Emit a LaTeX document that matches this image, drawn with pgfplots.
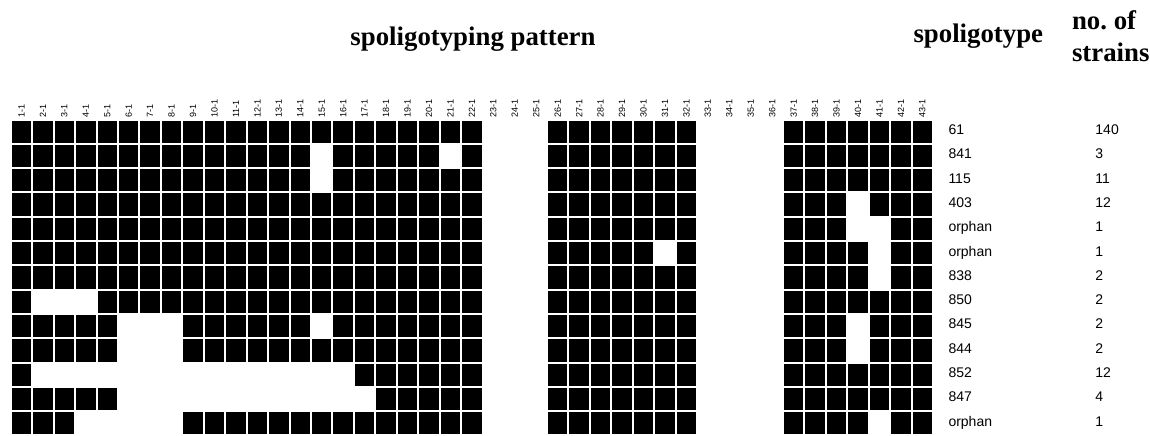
\documentclass[border=0pt]{standalone}
\usepackage{pgfplots}
\pgfplotsset{compat=1.18}
\usepackage{pgfplotstable}
\usepackage{fontspec}
\setmainfont{Liberation Serif}
\newfontfamily\lsans{Liberation Sans}
\pgfdeclareplotmark{cell}{%
  \pgfpathrectangle{\pgfpoint{-5.3625pt}{-6.075pt}}{\pgfpoint{10.725pt}{12.15pt}}%
  \pgfusepathqfillstroke}
% s = spacer number, r1..r13 = strain rows (1 = hybridisation present)
\pgfplotstableread{
s  r1 r2 r3 r4 r5 r6 r7 r8 r9 r10 r11 r12 r13
1  1 1 1 1 1 1 1 1 1 1 1 1 1
2  1 1 1 1 1 1 1 0 1 1 0 1 1
3  1 1 1 1 1 1 1 0 1 1 0 1 1
4  1 1 1 1 1 1 1 0 1 1 0 1 0
5  1 1 1 1 1 1 1 1 1 1 0 1 0
6  1 1 1 1 1 1 1 1 0 0 0 0 0
7  1 1 1 1 1 1 1 1 0 0 0 0 0
8  1 1 1 1 1 1 1 1 0 0 0 0 0
9  1 1 1 1 1 1 1 1 1 1 0 0 1
10 1 1 1 1 1 1 1 1 1 1 0 0 1
11 1 1 1 1 1 1 1 1 1 1 0 0 1
12 1 1 1 1 1 1 1 1 1 1 0 0 1
13 1 1 1 1 1 1 1 1 1 1 0 0 1
14 1 1 1 1 1 1 1 1 1 1 0 0 1
15 1 0 0 1 1 1 1 1 0 1 0 0 1
16 1 1 1 1 1 1 1 1 1 1 0 0 1
17 1 1 1 1 1 1 1 1 1 1 1 0 1
18 1 1 1 1 1 1 1 1 1 1 1 1 1
19 1 1 1 1 1 1 1 1 1 1 1 1 1
20 1 1 1 1 1 1 1 1 1 1 1 1 1
21 1 0 1 1 1 1 1 1 1 1 1 1 1
22 1 1 1 1 1 1 1 1 1 1 1 1 1
23 0 0 0 0 0 0 0 0 0 0 0 0 0
24 0 0 0 0 0 0 0 0 0 0 0 0 0
25 0 0 0 0 0 0 0 0 0 0 0 0 0
26 1 1 1 1 1 1 1 1 1 1 1 1 1
27 1 1 1 1 1 1 1 1 1 1 1 1 1
28 1 1 1 1 1 1 1 1 1 1 1 1 1
29 1 1 1 1 1 1 1 1 1 1 1 1 1
30 1 1 1 1 1 1 1 1 1 1 1 1 1
31 1 1 1 1 1 0 1 1 1 1 1 1 1
32 1 1 1 1 1 1 1 1 1 1 1 1 1
33 0 0 0 0 0 0 0 0 0 0 0 0 0
34 0 0 0 0 0 0 0 0 0 0 0 0 0
35 0 0 0 0 0 0 0 0 0 0 0 0 0
36 0 0 0 0 0 0 0 0 0 0 0 0 0
37 1 1 1 1 1 1 1 1 1 1 1 1 1
38 1 1 1 1 1 1 1 1 1 1 1 1 1
39 1 1 1 1 1 1 1 1 1 1 1 1 1
40 1 1 1 0 0 1 1 1 0 0 1 1 1
41 1 1 1 1 0 0 0 1 1 1 1 1 0
42 1 1 1 1 1 1 1 1 1 1 1 1 1
43 1 1 1 1 1 1 1 1 1 1 1 1 1
}\spol
\begin{document}
\begin{tikzpicture}
\begin{axis}[
  x=10.725pt, y=12.15pt, y dir=reverse,
  xmin=0, xmax=53.613, ymin=-4.418, ymax=13.443,
  axis line style={draw=none}, xtick=\empty, ytick=\empty,
  clip=false,
  colormap={bw}{color=(white) color=(black)},
  point meta min=0, point meta max=1,
]
\pgfplotsinvokeforeach{1,...,13}{
  \addplot[scatter, only marks, mark=cell, point meta=explicit,
    scatter/use mapped color={draw=white, fill=mapped color},
    mark options={line width=1pt}]
    table[x=s, y expr=#1, meta=r#1] {\spol};
}
% column (spacer) labels
\pgfplotsinvokeforeach{1,...,43}{
  \node[rotate=90, anchor=west, inner sep=0pt, xshift=-2pt,
    font=\lsans\fontsize{4.5}{5}\selectfont] at (axis cs:#1,0.274) {#1-1};
}
% headers
\node[font=\fontsize{13.4}{16}\selectfont\bfseries, anchor=base, inner sep=0pt]
  at (axis cs:22.05,-2.566) {spoligotyping pattern};
\node[font=\fontsize{13.4}{16}\selectfont\bfseries, anchor=base west, inner sep=0pt]
  at (axis cs:42.57,-2.669) {spoligotype};
\node[font=\fontsize{13.4}{16}\selectfont\bfseries, anchor=base west, inner sep=0pt]
  at (axis cs:49.96,-3.212) {no.\ of};
\node[font=\fontsize{13.4}{16}\selectfont\bfseries, anchor=base west, inner sep=0pt]
  at (axis cs:49.96,-1.879) {strains};
% row labels
\tikzset{rl/.style={anchor=base west, inner sep=0pt, font=\lsans\fontsize{7}{8}\selectfont}}
\node[rl] at (axis cs:44.2,1.12) {61};      \node[rl] at (axis cs:51.05,1.12) {140};
\node[rl] at (axis cs:44.2,2.12) {841};     \node[rl] at (axis cs:51.05,2.12) {3};
\node[rl] at (axis cs:44.2,3.12) {115};     \node[rl] at (axis cs:51.05,3.12) {11};
\node[rl] at (axis cs:44.2,4.12) {403};     \node[rl] at (axis cs:51.05,4.12) {12};
\node[rl] at (axis cs:44.2,5.12) {orphan};  \node[rl] at (axis cs:51.05,5.12) {1};
\node[rl] at (axis cs:44.2,6.12) {orphan};  \node[rl] at (axis cs:51.05,6.12) {1};
\node[rl] at (axis cs:44.2,7.12) {838};     \node[rl] at (axis cs:51.05,7.12) {2};
\node[rl] at (axis cs:44.2,8.12) {850};     \node[rl] at (axis cs:51.05,8.12) {2};
\node[rl] at (axis cs:44.2,9.12) {845};     \node[rl] at (axis cs:51.05,9.12) {2};
\node[rl] at (axis cs:44.2,10.12) {844};    \node[rl] at (axis cs:51.05,10.12) {2};
\node[rl] at (axis cs:44.2,11.12) {852};    \node[rl] at (axis cs:51.05,11.12) {12};
\node[rl] at (axis cs:44.2,12.12) {847};    \node[rl] at (axis cs:51.05,12.12) {4};
\node[rl] at (axis cs:44.2,13.12) {orphan}; \node[rl] at (axis cs:51.05,13.12) {1};
\end{axis}
\end{tikzpicture}
\end{document}
